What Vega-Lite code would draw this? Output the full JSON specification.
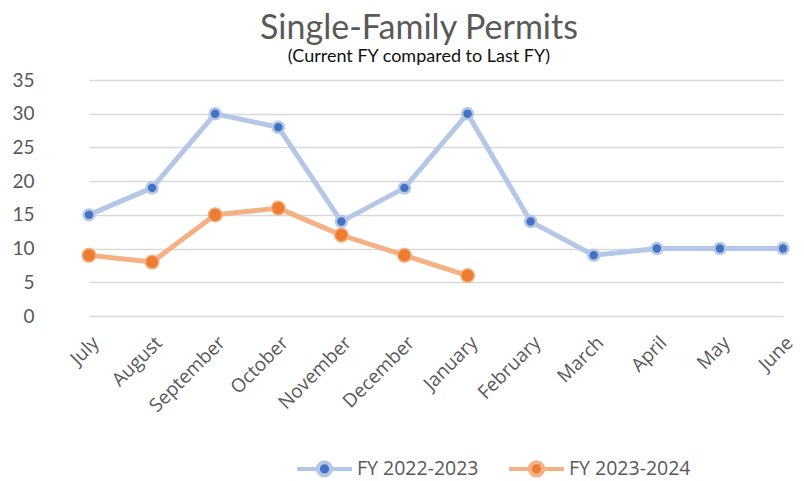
{
  "$schema": "https://vega.github.io/schema/vega-lite/v6.json",
  "width": 746,
  "height": 236,
  "autosize": {"type": "none"},
  "padding": {"left": 58, "top": 80, "right": 0, "bottom": 165},
  "background": "white",
  "config": {"view": {"stroke": null}},
  "title": {
    "text": "Single-Family Permits",
    "subtitle": "(Current FY compared to Last FY)",
    "anchor": "middle",
    "dx": -12,
    "offset": 5,
    "font": "Lato",
    "fontSize": 34,
    "fontWeight": "normal",
    "color": "#595959",
    "subtitleFont": "Lato",
    "subtitleFontSize": 18,
    "subtitleFontWeight": "normal",
    "subtitleColor": "#111111",
    "subtitlePadding": 2
  },
  "data": {
    "values": [
      {"month": "July", "series": "FY 2022-2023", "value": 15},
      {"month": "August", "series": "FY 2022-2023", "value": 19},
      {"month": "September", "series": "FY 2022-2023", "value": 30},
      {"month": "October", "series": "FY 2022-2023", "value": 28},
      {"month": "November", "series": "FY 2022-2023", "value": 14},
      {"month": "December", "series": "FY 2022-2023", "value": 19},
      {"month": "January", "series": "FY 2022-2023", "value": 30},
      {"month": "February", "series": "FY 2022-2023", "value": 14},
      {"month": "March", "series": "FY 2022-2023", "value": 9},
      {"month": "April", "series": "FY 2022-2023", "value": 10},
      {"month": "May", "series": "FY 2022-2023", "value": 10},
      {"month": "June", "series": "FY 2022-2023", "value": 10},
      {"month": "July", "series": "FY 2023-2024", "value": 9},
      {"month": "August", "series": "FY 2023-2024", "value": 8},
      {"month": "September", "series": "FY 2023-2024", "value": 15},
      {"month": "October", "series": "FY 2023-2024", "value": 16},
      {"month": "November", "series": "FY 2023-2024", "value": 12},
      {"month": "December", "series": "FY 2023-2024", "value": 9},
      {"month": "January", "series": "FY 2023-2024", "value": 6}
    ]
  },
  "encoding": {
    "x": {
      "field": "month",
      "type": "ordinal",
      "sort": ["July","August","September","October","November","December","January","February","March","April","May","June"],
      "scale": {"type": "point", "range": [31, 725], "padding": 0},
      "axis": {
        "title": null,
        "domain": false,
        "ticks": false,
        "grid": false,
        "labelAngle": -45,
        "labelFont": "Open Sans",
        "labelFontSize": 19,
        "labelColor": "#595959",
        "labelPadding": 17
      }
    },
    "y": {
      "field": "value",
      "type": "quantitative",
      "scale": {"domain": [0, 35], "nice": false},
      "axis": {
        "title": null,
        "values": [0,5,10,15,20,25,30,35],
        "domain": false,
        "ticks": false,
        "grid": true,
        "gridColor": "#D9D9D9",
        "gridWidth": 1.5,
        "labelFont": "Lato",
        "labelFontSize": 19,
        "labelColor": "#595959",
        "labelPadding": 24
      }
    }
  },
  "layer": [
    {
      "mark": {"type": "line", "strokeWidth": 5, "strokeCap": "round", "strokeJoin": "round"},
      "encoding": {
        "stroke": {
          "field": "series",
          "type": "nominal",
          "scale": {"domain": ["FY 2022-2023", "FY 2023-2024"], "range": ["#B4C7E7", "#F4B183"]},
          "legend": {
            "title": null,
            "orient": "none",
            "direction": "horizontal",
            "legendX": 237,
            "legendY": 359,
            "padding": 0,
            "symbolType": "M-1,0H-0.24M0.24,0H1M0.24,0A0.24,0.24,0,1,1,-0.24,0A0.24,0.24,0,1,1,0.24,0Z",
            "symbolSize": 3025,
            "symbolStrokeWidth": 4,
            "symbolOpacity": 1,
            "labelFont": "Open Sans",
            "labelFontSize": 19.5,
            "labelColor": "#595959",
            "labelOffset": 3,
            "columnPadding": 22
          }
        }
      }
    },
    {
      "transform": [{"filter": "datum.series === 'FY 2022-2023'"}],
      "mark": {"type": "point", "filled": true, "strokeWidth": 2.5, "opacity": 1, "size": 120},
      "encoding": {
        "fill": {
          "field": "series",
          "type": "nominal",
          "scale": {"domain": ["FY 2022-2023", "FY 2023-2024"], "range": ["#4472C4", "#ED7D31"]}
        },
        "stroke": {"field": "series", "type": "nominal"}
      }
    },
    {
      "transform": [{"filter": "datum.series === 'FY 2023-2024'"}],
      "mark": {"type": "point", "filled": true, "strokeWidth": 1.5, "opacity": 1, "size": 185},
      "encoding": {
        "fill": {"field": "series", "type": "nominal"},
        "stroke": {"field": "series", "type": "nominal"}
      }
    }
  ]
}
